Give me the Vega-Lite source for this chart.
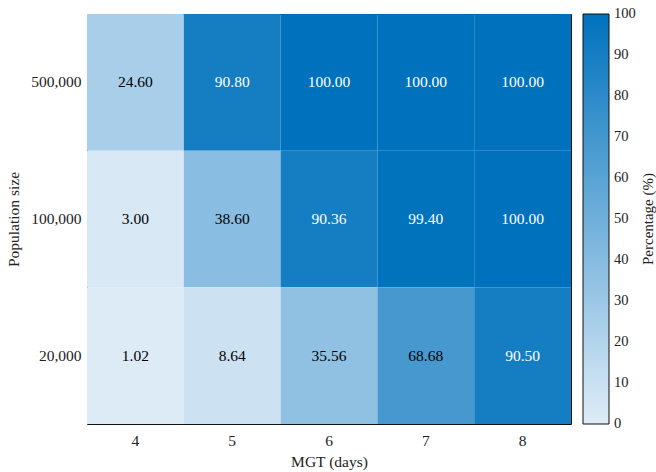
{
  "$schema": "https://vega.github.io/schema/vega-lite/v6.json",
  "autosize": {"type": "none"},
  "padding": {"left": 87, "top": 14, "right": 85, "bottom": 48},
  "width": 484,
  "height": 410,
  "background": "white",
  "config": {
    "font": "Liberation Serif",
    "view": {"stroke": "#111111", "strokeWidth": 1},
    "axis": {"labelFont": "Liberation Serif", "titleFont": "Liberation Serif", "labelFontSize": 15.5, "titleFontSize": 15.5, "titleFontWeight": "normal", "labelColor": "#222222", "titleColor": "#222222", "domain": false, "ticks": false, "grid": false},
    "legend": {"labelFont": "Liberation Serif", "titleFont": "Liberation Serif", "labelFontSize": 14.5, "titleFontSize": 15, "titleFontWeight": "normal", "labelColor": "#222222", "titleColor": "#222222"}
  },
  "data": {
    "values": [
      {"MGT": 4, "Pop": "500,000", "Percentage": 24.60},
      {"MGT": 5, "Pop": "500,000", "Percentage": 90.80},
      {"MGT": 6, "Pop": "500,000", "Percentage": 100.00},
      {"MGT": 7, "Pop": "500,000", "Percentage": 100.00},
      {"MGT": 8, "Pop": "500,000", "Percentage": 100.00},
      {"MGT": 4, "Pop": "100,000", "Percentage": 3.00},
      {"MGT": 5, "Pop": "100,000", "Percentage": 38.60},
      {"MGT": 6, "Pop": "100,000", "Percentage": 90.36},
      {"MGT": 7, "Pop": "100,000", "Percentage": 99.40},
      {"MGT": 8, "Pop": "100,000", "Percentage": 100.00},
      {"MGT": 4, "Pop": "20,000", "Percentage": 1.02},
      {"MGT": 5, "Pop": "20,000", "Percentage": 8.64},
      {"MGT": 6, "Pop": "20,000", "Percentage": 35.56},
      {"MGT": 7, "Pop": "20,000", "Percentage": 68.68},
      {"MGT": 8, "Pop": "20,000", "Percentage": 90.50}
    ]
  },
  "encoding": {
    "x": {"field": "MGT", "type": "ordinal", "title": "MGT (days)", "scale": {"paddingInner": 0, "paddingOuter": 0}, "axis": {"labelAngle": 0, "labelPadding": 9, "titlePadding": 6}},
    "y": {"field": "Pop", "type": "ordinal", "title": "Population size", "sort": ["500,000", "100,000", "20,000"], "scale": {"paddingInner": 0, "paddingOuter": 0}, "axis": {"labelPadding": 6, "titlePadding": 9}}
  },
  "layer": [
    {
      "mark": {"type": "rect"},
      "encoding": {
        "color": {
          "field": "Percentage", "type": "quantitative", "title": "Percentage (%)",
          "scale": {"domain": [0, 100], "range": ["#dfecf7", "#0072bd"], "interpolate": "rgb"},
          "legend": {
            "orient": "none", "legendX": 496, "legendY": 0,
            "direction": "vertical", "gradientLength": 410, "gradientThickness": 26,
            "gradientStrokeColor": "#111111", "gradientStrokeWidth": 1,
            "values": [0, 10, 20, 30, 40, 50, 60, 70, 80, 90, 100],
            "labelOffset": 5, "labelOverlap": false, "labelBaseline": "middle",
            "titleOrient": "right", "titlePadding": 8, "titleAnchor": "middle",
            "encode": {
              "labels": {"update": {"baseline": {"value": "middle"}}},
              "title": {"update": {"angle": {"value": -90}, "dy": {"value": 12}}}
            }
          }
        }
      }
    },
    {
      "mark": {"type": "text", "fontSize": 15.5, "font": "Liberation Serif"},
      "encoding": {
        "text": {"field": "Percentage", "type": "quantitative", "format": ".2f"},
        "color": {"condition": {"test": "datum.Percentage > 80", "value": "white"}, "value": "black"}
      }
    }
  ]
}
